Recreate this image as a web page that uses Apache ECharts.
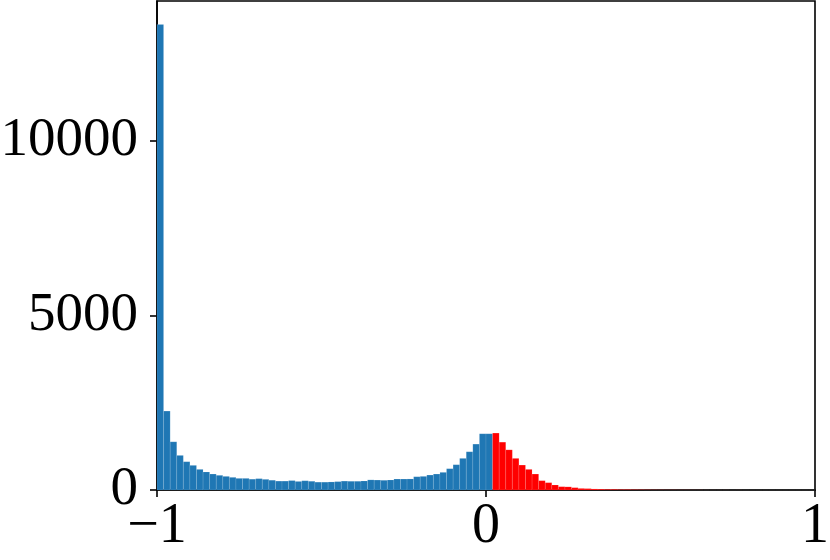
<!DOCTYPE html>
<html>
<head>
<meta charset="utf-8">
<script src="https://cdn.jsdelivr.net/npm/echarts@6/dist/echarts.min.js"></script>
<style>
  html, body { margin: 0; padding: 0; background: #fff; }
  #chart { width: 830px; height: 560px; }
</style>
</head>
<body>
<div id="chart"></div>
<script>
// histogram bins: 100 bins of width 0.02 from -1 to 1
const binStart = -1
const binWidth = 0.02

// counts for bins left of / at zero (blue)
const blueCounts = [
  13330, 2260, 1380, 990, 810, 705, 590, 515, 457, 420,
  390, 362, 333, 333, 310, 325, 305, 280, 255, 255,
  270, 245, 265, 250, 225, 225, 230, 240, 255, 250,
  250, 258, 290, 285, 278, 286, 314, 314, 316, 380,
  390, 428, 457, 505, 610, 724, 905, 1095, 1314, 1610,
  1610,
]

// counts for the remaining bins (red)
const redCounts = [
  1630, 1370, 1150, 905, 714, 590, 457, 267, 210, 143,
  95, 90, 67, 45, 40, 30, 25, 20, 20, 15,
  15, 12, 10, 8, 6, 5, 4, 4, 3, 3,
  2, 2, 1, 1, 1, 1, 0, 1, 0, 0,
  0, 0, 0, 0, 0, 0, 0, 0, 0,
]

const xTicks = [-1, 0, 1]
const yTicks = [0, 5000, 10000]

function toBins(counts, offset) {
  return counts.map((c, i) => {
    const x0 = binStart + (offset + i) * binWidth
    return [x0, x0 + binWidth, c]
  })
}

function histItem(color) {
  return (params, api) => {
    const p0 = api.coord([api.value(0), api.value(2)])
    const p1 = api.coord([api.value(1), 0])
    return {
      type: 'rect',
      shape: { x: p0[0], y: p0[1], width: p1[0] - p0[0], height: p1[1] - p0[1] },
      style: { fill: color, stroke: 'rgba(255,255,255,0.18)', lineWidth: 0.6 },
    }
  }
}

const font = '"Liberation Serif", "DejaVu Serif", serif'
const chart = echarts.init(document.getElementById('chart'))

chart.setOption({
  animation: false,
  grid: {
    left: 157,
    right: 15,
    top: 1,
    bottom: 70,
    outerBoundsMode: 'none',
    show: true,
    borderColor: '#000',
    borderWidth: 1.6,
  },
  xAxis: {
    type: 'value',
    min: -1,
    max: 1,
    interval: 1,
    splitLine: { show: false },
    axisLine: { onZero: false, lineStyle: { color: '#000', width: 1.6 } },
    axisTick: { show: true, length: 7, lineStyle: { color: '#000', width: 1.6 }, customValues: xTicks },
    axisLabel: {
      customValues: xTicks,
      margin: 9,
      color: '#000',
      fontFamily: font,
      fontSize: 56,
      formatter: (v) => (v < 0 ? '\u2212' + Math.abs(v) : String(v)),
    },
  },
  yAxis: {
    type: 'value',
    min: 0,
    max: 14000,
    interval: 5000,
    splitLine: { show: false },
    axisLine: { show: true, onZero: false, lineStyle: { color: '#000', width: 1.6 } },
    axisTick: { show: true, length: 7, lineStyle: { color: '#000', width: 1.6 }, customValues: yTicks },
    axisLabel: {
      customValues: yTicks,
      margin: 19,
      color: '#000',
      fontFamily: font,
      fontSize: 55,
      formatter: (v) => String(v),
    },
  },
  series: [
    {
      type: 'custom',
      renderItem: histItem('#1f77b4'),
      encode: { x: [0, 1], y: 2 },
      data: toBins(blueCounts, 0),
    },
    {
      type: 'custom',
      renderItem: histItem('#ff0000'),
      encode: { x: [0, 1], y: 2 },
      data: toBins(redCounts, blueCounts.length),
    },
  ],
})
</script>
</body>
</html>
